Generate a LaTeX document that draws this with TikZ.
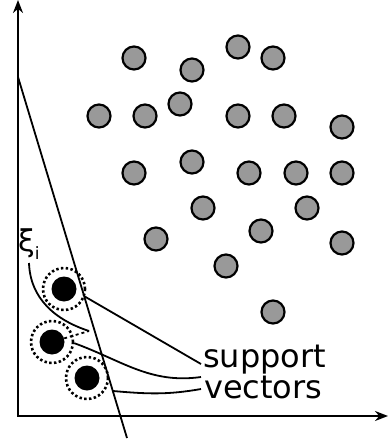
\documentclass[tikz,border=0pt]{standalone}
\usepackage{fontspec}
\setmainfont{DejaVu Sans}
\usepackage{tikz}
\usetikzlibrary{arrows.meta,positioning,calc}
\definecolor{pointgray}{RGB}{153,153,153}

\begin{document}
\begin{tikzpicture}[x=1pt,y=-1pt,
        other/.style={circle, draw, line width=2.2pt, fill=pointgray, minimum size=23pt, inner sep=0pt},
        sv/.style={circle, fill=black, minimum size=25pt, inner sep=0pt},
        margin/.style={circle, draw, line width=2.6pt, dash pattern=on 2.4pt off 2.4pt, minimum size=42pt, inner sep=0pt},
        wire/.style={line width=1.8pt},
        axis/.style={line width=2pt, {Stealth[length=13pt,width=10pt]}-{Stealth[length=13pt,width=10pt]}},
        lbl/.style={font=\fontsize{32}{32}\selectfont, inner sep=0pt, anchor=base west}
        ]
      \useasboundingbox (0,0) rectangle (388,444);
      % axes
      \coordinate (o) at (18,416);
      \coordinate (ytop) at (18,0);
      \coordinate (xend) at (388,416);
      \draw[axis] (ytop) -- (o) -- (xend);
      % other points
      \foreach \x/\y [count=\i] in {134/58, 192/70, 238/47, 273/58, 99/116, 145/116, 180/104,
          238/116, 284/116, 342/127, 134/173, 192/162, 249/173, 296/173, 342/173,
          203/208, 307/208, 156/239, 261/231, 342/243, 226/266, 273/312}
        \node[other] (p\i) at (\x,\y) {};
      % support vectors
      \node[sv] (sv1) at (64,289) {};
      \node[sv] (sv2) at (52,342) {};
      \node[sv] (sv3) at (87,378) {};
      \node[margin] (m1) at (64,289) {};
      \node[margin] (m2) at (52,342) {};
      \node[margin] (m3) at (87,378) {};
      % separating line
      \coordinate (htop) at (18,77);
      \coordinate (hbot) at (127,438);
      \draw[wire] (htop) -- (hbot);
      % slack
      \node[inner sep=0pt, anchor=base west, font=\fontsize{30}{30}\selectfont] (xi) at (18,251)
        {ξ\raisebox{-8pt}{\fontsize{17}{17}\selectfont i}};
      \coordinate (xistart) at (29,263);
      \coordinate (xiend) at (89,331);
      \draw[wire] (xistart) to[out=-88,in=162] (xiend);
      \draw[wire, dashed] (sv2) -- (xiend);
      % label
      \node[lbl] (support) at (203,367) {support};
      \node[lbl] (vectors) at (204,398) {vectors};
      \coordinate (s3) at (113,391);
      \coordinate (e1) at (201,364);
      \coordinate (e2) at (201,377);
      \coordinate (e3) at (201,389);
      \draw[wire] (m1.-20) -- (e1);
      \draw[wire] (m2.-3) to[out=-20,in=188] (e2);
      \draw[wire] (s3) to[out=-5,in=190] (e3);
\end{tikzpicture}
\end{document}
